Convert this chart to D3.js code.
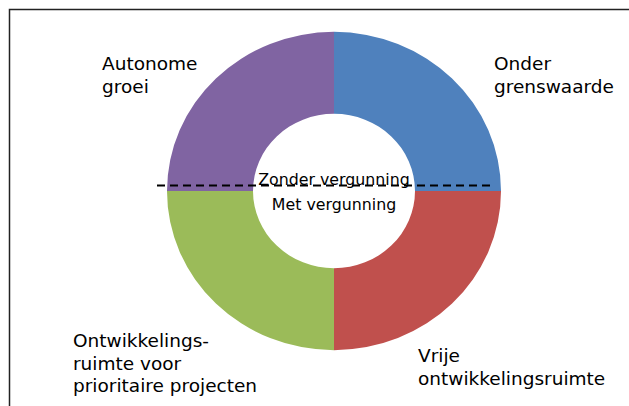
<!DOCTYPE html>
<html>
<head>
<meta charset="utf-8">
<script src="https://cdn.jsdelivr.net/npm/d3@7"></script>
<style>
  html, body { margin: 0; padding: 0; background: #fff; }
  svg { display: block; }
  text { font-family: "DejaVu Sans", Verdana, sans-serif; fill: #000; }
</style>
</head>
<body>
<div id="chart"></div>
<script>
// Donut data: four equal parts, clockwise from 12 o'clock
const categories = ['Onder grenswaarde', 'Vrije ontwikkelingsruimte', 'Ontwikkelingsruimte voor prioritaire projecten', 'Autonome groei'];
const values = [25, 25, 25, 25];
const colors = ['#4F81BD', '#C0504D', '#9BBB59', '#8064A2'];
const labelLines = [
    ['Onder', 'grenswaarde'],
    ['Vrije', 'ontwikkelingsruimte'],
    ['Ontwikkelings-', 'ruimte voor', 'prioritaire projecten'],
    ['Autonome', 'groei']
];
const centerLabels = ['Zonder vergunning', 'Met vergunning'];

const width = 629, height = 406;
const cx = 334, cy = 191;
const outerR = 167, innerR = 81;
const ySquash = 0.953;

const svg = d3.select('#chart')
    .append('svg')
    .attr('width', width)
    .attr('height', height);

// frame (runs off the right and bottom edge)
svg.append('rect')
    .attr('x', 9.5)
    .attr('y', 9.5)
    .attr('width', width)
    .attr('height', height)
    .attr('fill', 'none')
    .attr('stroke', '#222')
    .attr('stroke-width', 1.5);

const pie = d3.pie().sort(null).value(d => d);
const arc = d3.arc().innerRadius(innerR).outerRadius(outerR);

const g = svg.append('g')
    .attr('transform', `translate(${cx},${cy}) scale(1,${ySquash})`);

g.selectAll('path')
    .data(pie(values))
    .enter()
    .append('path')
    .attr('d', arc)
    .attr('fill', (d, i) => colors[i]);

// outside labels, one block per slice
const labelPos = [
    { x: 494, y: 70, lh: 22.5 },
    { x: 418, y: 362, lh: 23 },
    { x: 73, y: 347, lh: 22.5 },
    { x: 102, y: 70, lh: 22.5 }
];

labelLines.forEach((lines, i) => {
    const p = labelPos[i];
    const t = svg.append('text')
        .attr('x', p.x)
        .attr('y', p.y)
        .attr('font-size', '18.5px');
    lines.forEach((line, j) => {
        t.append('tspan')
            .attr('x', p.x)
            .attr('y', p.y + j * p.lh)
            .text(line);
    });
});

// center labels
svg.selectAll('.center-label')
    .data(centerLabels)
    .enter()
    .append('text')
    .attr('class', 'center-label')
    .attr('x', cx)
    .attr('y', (d, i) => 185 + i * 25)
    .attr('text-anchor', 'middle')
    .attr('font-size', '15.8px')
    .text(d => d);

// dashed divider between "Zonder" and "Met vergunning"
svg.append('line')
    .attr('x1', 157)
    .attr('x2', 493)
    .attr('y1', 185.5)
    .attr('y2', 185.5)
    .attr('stroke', '#000')
    .attr('stroke-width', 2)
    .attr('stroke-dasharray', '8,5');
</script>
</body>
</html>
